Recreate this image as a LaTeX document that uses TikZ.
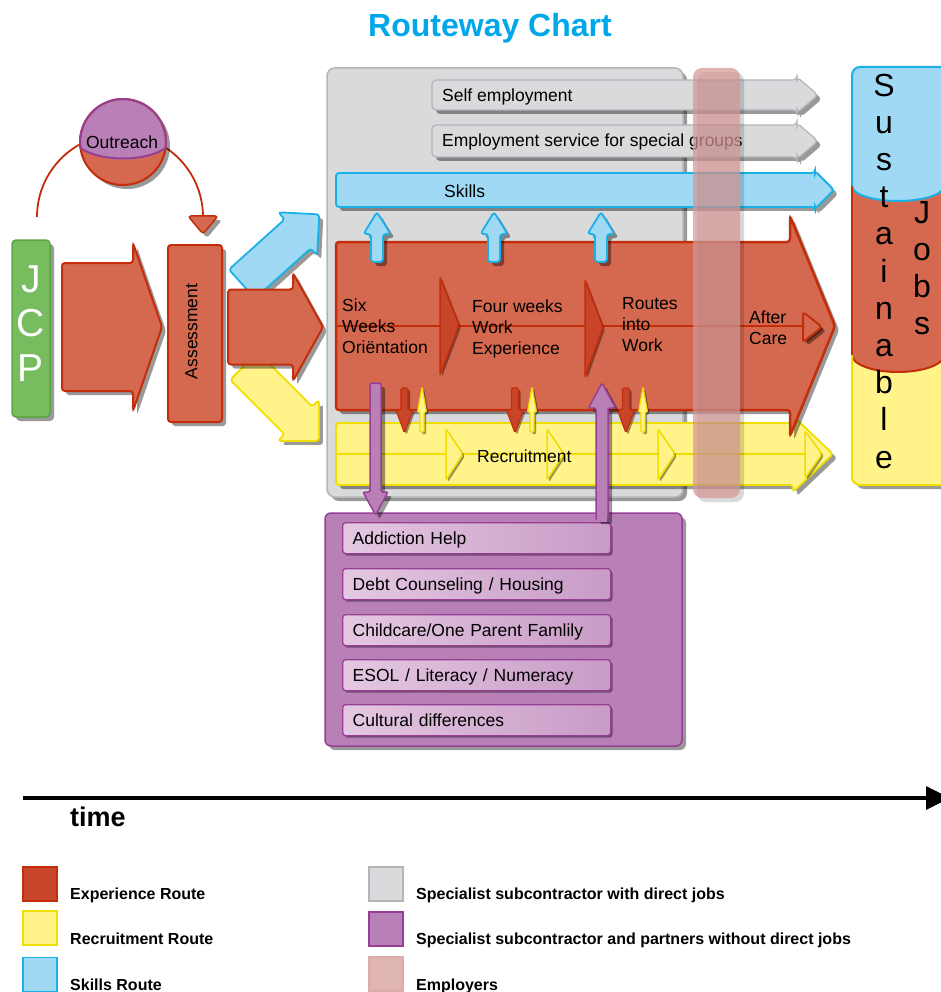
\documentclass[tikz,border=0pt]{standalone}
\usepackage{fontspec}
\setmainfont{Liberation Sans}
\usetikzlibrary{shadows,arrows.meta}

\definecolor{redfill}{RGB}{213,105,80}
\definecolor{redline}{RGB}{195,45,10}
\definecolor{reddark}{RGB}{201,69,42}
\definecolor{bluefill}{RGB}{160,217,244}
\definecolor{blueline}{RGB}{27,176,230}
\definecolor{yelfill}{RGB}{255,243,138}
\definecolor{yelline}{RGB}{240,222,0}
\definecolor{greyfill}{RGB}{217,218,220}
\definecolor{greyline}{RGB}{180,181,184}
\definecolor{purfill}{RGB}{184,128,182}
\definecolor{purline}{RGB}{150,63,148}
\definecolor{purlight}{RGB}{228,200,226}
\definecolor{purmid}{RGB}{200,155,198}
\definecolor{empfill}{RGB}{211,151,150}
\definecolor{greenfill}{RGB}{120,188,96}
\definecolor{greenline}{RGB}{93,163,71}
\definecolor{titleblue}{RGB}{0,168,234}

% block arrow: options, length, body half width, head half width, head length
\newcommand{\blockarrow}[5]{%
  \path[#1] (0,-#3) -- (#2-#5,-#3) -- (#2-#5,-#4) -- (#2,0) -- (#2-#5,#4) -- (#2-#5,#3) -- (0,#3) -- cycle;}

\begin{document}
\begin{tikzpicture}[x=1pt, y=-1pt]
\tikzset{shad/.style={drop shadow={shadow xshift=4pt, shadow yshift=-4pt, opacity=0.4, fill=black}}}
\tikzset{shadsmall/.style={drop shadow={shadow xshift=2pt, shadow yshift=-2pt, opacity=0.4, fill=black}}}
\tikzset{redarr/.style={fill=redfill, draw=redline, line width=2pt, rounded corners=3pt, shad}}
\tikzset{bluearr/.style={fill=bluefill, draw=blueline, line width=1.8pt, rounded corners=3pt, shad}}
\tikzset{yelarr/.style={fill=yelfill, draw=yelline, line width=1.8pt, rounded corners=3pt, shad}}
\tikzset{greyarr/.style={fill=greyfill, draw=greyline, line width=1.2pt, rounded corners=4pt, shad}}
\tikzset{purarr/.style={fill=purfill, draw=purline, line width=1.5pt, rounded corners=2pt, shad}}
\tikzset{redsmall/.style={fill=reddark, draw=redline, line width=1.2pt, rounded corners=1.5pt, shadsmall}}
\tikzset{yelsmall/.style={fill=yelfill, draw=yelline, line width=1.2pt, rounded corners=1pt, shadsmall}}
\tikzset{redchev/.style={fill=reddark, draw=redline, line width=1.5pt, rounded corners=2pt, shadsmall}}
\tikzset{yelchev/.style={fill=yelfill, draw=yelline, line width=1.5pt, rounded corners=2pt, shadsmall}}
\tikzset{txt/.style={font=\fontsize{17.5}{21}\selectfont, inner sep=0pt, align=left}}
\tikzset{bigtxt/.style={anchor=north, inner sep=0pt, align=center}}
\tikzset{item/.style={anchor=north west, left color=purlight, right color=purmid, draw=purline, line width=1.3pt, rounded corners=3pt, shadsmall,
  minimum height=31pt, text width=248pt, inner xsep=10pt, inner ysep=0pt, text depth=0pt, font=\fontsize{17.5}{21}\selectfont}}
\tikzset{legsq/.style={minimum width=34pt, minimum height=34pt, inner sep=0pt, line width=1.5pt}}
\tikzset{legtxt/.style={anchor=base west, inner sep=0pt, font=\bfseries\fontsize{16}{19}\selectfont}}

\useasboundingbox (0,0) rectangle (941,992);
\clip (0,0) rectangle (941,992);

\node[anchor=base, text=titleblue, font=\bfseries\fontsize{32}{36}\selectfont] (title) at (490,37) {Routeway Chart};

% JCP and outreach
\draw[fill=greenfill, draw=greenline, line width=1.5pt, rounded corners=4pt, shad] (12,240) rectangle (50,417);
\node[bigtxt, text=white, font=\fontsize{39}{44.5}\selectfont] (jcp) at (31,265) {J\\C\\P};

\coordinate (loopA) at (37,217);
\coordinate (loopB) at (203,217);
\draw[redline, line width=1.8pt] (loopA) arc[start angle=180, end angle=360, radius=83];
\path[redarr, line width=1.5pt] (188,216) -- (218,216) -- (loopB |- 0,234) -- cycle;

\fill[redfill, shad] (123,142) circle[radius=43];
\begin{scope}
\clip (123,142) circle[radius=43];
\fill[purfill] (78,147) .. controls (100,164) and (146,164) .. (168,147) -- (168,95) -- (78,95) -- cycle;
\end{scope}
\draw[redline, line width=2pt] (123,142) circle[radius=43];
\draw[purline, line width=2pt] (80.5,148) .. controls (100,162) and (146,162) .. (165.5,148);
\draw[purline, line width=2pt] (80.5,148) arc[start angle=172, end angle=368, radius=43];
\node[txt, anchor=base] (outreach) at (122,149) {Outreach};

\blockarrow{redarr, shift={(62,327)}}{100}{64}{84}{29}

\draw[redarr] (168,245) rectangle (222,422);
\node[txt, rotate=90] (assess) at (191.5,331.5) {Assessment};

\blockarrow{bluearr, shift={(242,284)}, rotate=42}{104}{19.5}{29}{29}
\blockarrow{yelarr, shift={(244,366)}, rotate=-45}{106}{19.5}{29}{29}
\blockarrow{redarr, shift={(228,327)}}{95}{37.5}{54}{30}

% specialist subcontractor with direct jobs
\draw[fill=greyfill, draw=greyline, line width=1.5pt, rounded corners=8pt, shad] (327,68) rectangle (683,497);
\blockarrow{greyarr, shift={(432,95)}}{386}{15}{18}{21}
\node[txt, anchor=base west] (self) at (442,102) {Self employment};
\blockarrow{greyarr, shift={(432,141)}}{386}{16}{18}{21}
\node[txt, anchor=base west] (special) at (442,147) {Employment service for special groups};
\blockarrow{bluearr, shift={(336,190)}}{498}{17}{19}{19}
\node[txt, anchor=base west] (skills) at (444,198) {Skills};

% recruitment route
\blockarrow{yelarr, shift={(336,454)}}{497}{31}{38}{40}
\draw[yelline, line width=1.5pt] (337,454) -- (806,454);
\path[yelchev] (446,429) -- (463,454) -- (446,480) -- cycle;
\path[yelchev] (547,429) -- (564,454) -- (547,480) -- cycle;
\path[yelchev] (658,429) -- (675,454) -- (658,480) -- cycle;
\path[yelchev] (805,431) -- (822,454) -- (805,478) -- cycle;
\node[txt, anchor=base west] (recruit) at (477,462) {Recruitment};

% experience route
\blockarrow{redarr, line width=2.5pt, shift={(336,326)}}{499}{84}{110}{45}
\draw[redline, line width=1.5pt] (337,326) -- (806,326);
\path[redchev] (440,277) -- (459,325) -- (440,375) -- cycle;
\path[redchev] (585,280) -- (603,327) -- (585,377) -- cycle;
\path[redarr, line width=2pt, shadsmall] (803,312) -- (822,327) -- (803,342) -- cycle;
\node[txt, anchor=north west] (six) at (342,299) {Six\\Weeks\\Oriëntation};
\node[txt, anchor=north west] (four) at (472,299.5) {Four weeks\\Work\\Experience};
\node[txt, anchor=north west] (routes) at (622,297.5) {Routes\\into\\Work};
\node[txt, anchor=north west] (after) at (749,310.5) {After\\Care};

\blockarrow{bluearr, shift={(377,262)}, rotate=90}{50}{6}{13.5}{22}
\blockarrow{bluearr, shift={(494,262)}, rotate=90}{50}{6}{13.5}{22}
\blockarrow{bluearr, shift={(601,262)}, rotate=90}{50}{6}{13.5}{22}

\blockarrow{redsmall, shift={(404.5,388)}, rotate=-90}{45}{3.5}{8.5}{23}
\blockarrow{redsmall, shift={(515,388)}, rotate=-90}{45}{3.5}{8.5}{23}
\blockarrow{redsmall, shift={(626,388)}, rotate=-90}{45}{3.5}{8.5}{23}
\blockarrow{yelsmall, shift={(422,432)}, rotate=90}{45}{2}{4.5}{25}
\blockarrow{yelsmall, shift={(532,432)}, rotate=90}{45}{2}{4.5}{25}
\blockarrow{yelsmall, shift={(643,432)}, rotate=90}{45}{2}{4.5}{25}

% partners without direct jobs
\draw[fill=purfill, draw=purline, line width=1.5pt, rounded corners=6pt, shad] (325,513) rectangle (682,746);
\node[item] (addict) at (342,522) {Addiction Help};
\node[item] (debt) at (342,568) {Debt Counseling / Housing};
\node[item] (child) at (342,614) {Childcare/One Parent Famlily};
\node[item] (esol) at (342,659) {ESOL / Literacy / Numeracy};
\node[item] (culture) at (342,704) {Cultural differences};

\blockarrow{purarr, shift={(375.5,383)}, rotate=-90}{132}{5.5}{12.5}{23}
\blockarrow{purarr, shift={(602,520)}, rotate=90}{137}{6}{13.5}{25}
\fill[purfill] (596.8,511) rectangle (607.2,521.5);

% employers
\fill[empfill, opacity=0.72, rounded corners=9pt, drop shadow={shadow xshift=4pt, shadow yshift=-4pt, opacity=0.15, fill=black}] (693,68) rectangle (740,498);

% sustainable jobs
\fill[yelfill, shad, rounded corners=8pt] (852,67) rectangle (948,485);
\begin{scope}
\clip[rounded corners=8pt] (852,67) rectangle (948,485);
\fill[redfill] (852,186) rectangle (948,355);
\fill[redfill] (898,355) ellipse[x radius=46, y radius=17];
\draw[redline, line width=2pt] (852,355) arc[start angle=180, end angle=0, x radius=46, y radius=17];
\fill[bluefill] (852,60) rectangle (948,186);
\fill[bluefill] (898,186) ellipse[x radius=46, y radius=15];
\draw[blueline, line width=2pt] (852,186) arc[start angle=180, end angle=0, x radius=46, y radius=15];
\end{scope}
\draw[yelline, line width=2pt, rounded corners=8pt] (852,355) -- (852,485) -- (948,485);
\draw[redline, line width=2pt] (852,186) -- (852,355);
\draw[blueline, line width=2pt, rounded corners=8pt] (852,186) -- (852,67) -- (948,67);
\node[bigtxt, font=\fontsize{32}{37.2}\selectfont] (sust) at (884,73.5) {S\\u\\s\\t\\a\\i\\n\\a\\b\\l\\e};
\node[bigtxt, font=\fontsize{32}{37.2}\selectfont] (jobs) at (922,201) {J\\o\\b\\s};

% time
\coordinate (t0) at (23,798);
\coordinate (t1) at (950,798);
\draw[line width=3.5pt, -{Triangle[length=24pt, width=23pt]}] (t0) -- (t1);
\node[anchor=base west, inner sep=0pt, font=\bfseries\fontsize{27}{30}\selectfont] (time) at (70,826) {time};

% legend
\node[legsq, fill=reddark, draw=redline] (lexp) at (40,884) {};
\node[legtxt] (texp) at (70,899) {Experience Route};
\node[legsq, fill=yelfill, draw=yelline] (lrec) at (40,928) {};
\node[legtxt] (trec) at (70,944) {Recruitment Route};
\node[legsq, fill=bluefill, draw=blueline] (lski) at (40,974.5) {};
\node[legtxt] (tski) at (70,990) {Skills Route};
\node[legsq, fill=greyfill, draw=greyline] (lgry) at (386,884) {};
\node[legtxt] (tgry) at (416,899) {Specialist subcontractor with direct jobs};
\node[legsq, fill=purfill, draw=purline] (lpur) at (386,929) {};
\node[legtxt] (tpur) at (416,944) {Specialist subcontractor and partners without direct jobs};
\node[legsq, fill=empfill!70, draw=empfill!80] (lemp) at (386,974) {};
\node[legtxt] (temp) at (416,990) {Employers};
\end{tikzpicture}
\end{document}
